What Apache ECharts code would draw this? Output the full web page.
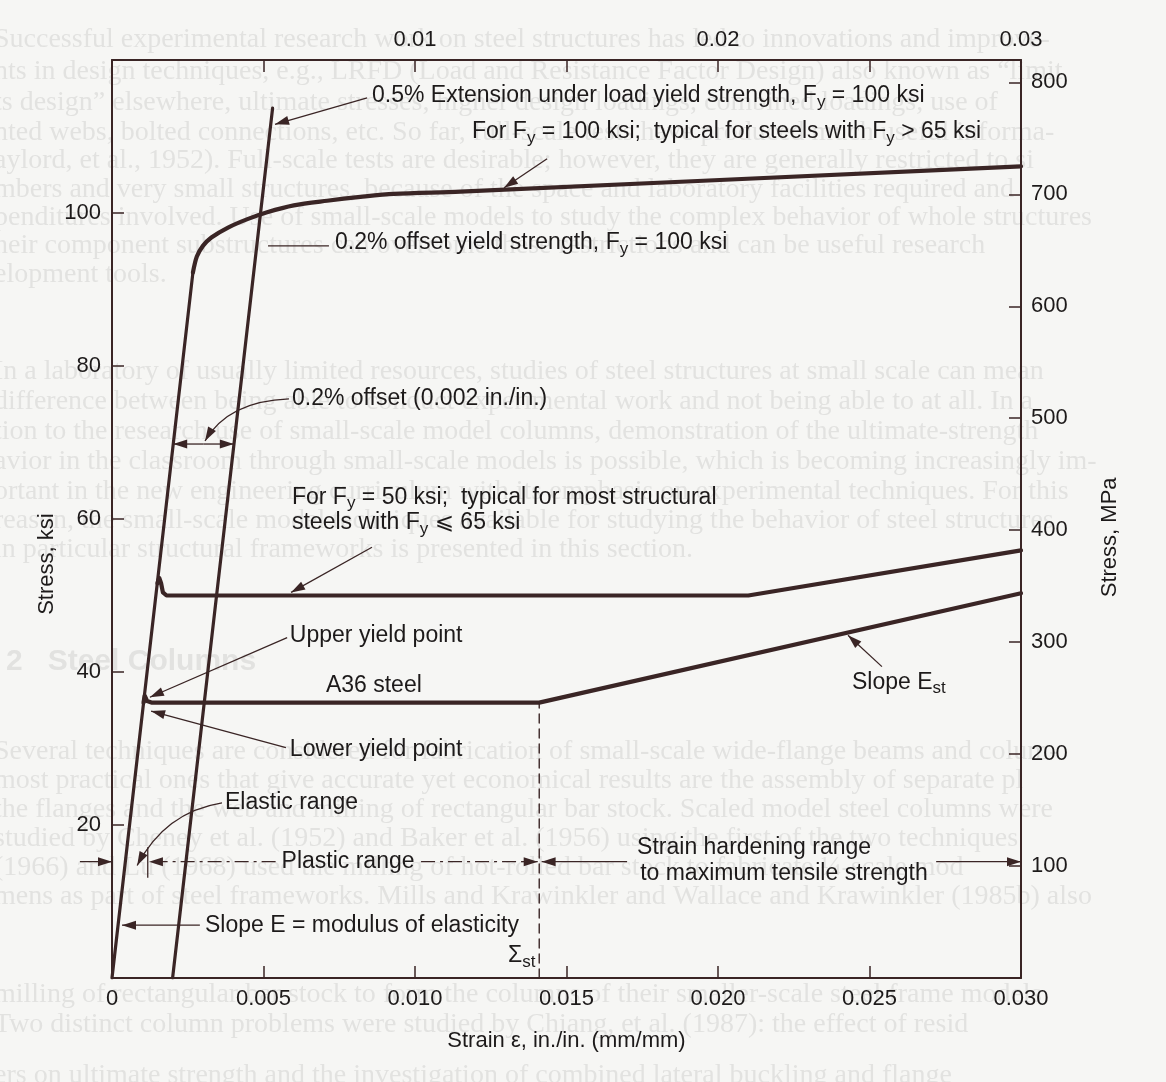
<!DOCTYPE html>
<html>
<head>
<meta charset="utf-8">
<title>Stress–strain curves for structural steels</title>
<script src="https://cdn.jsdelivr.net/npm/echarts@6/dist/echarts.min.js"></script>
<style>
  html, body { margin: 0; padding: 0; background: #f6f6f4; }
  #chart { width: 1166px; height: 1082px; }
</style>
</head>
<body>
<div id="chart"></div>
<script>
// ---------- data: strain (in./in.) against stress (ksi) ----------
const strainTickLabelsBottom = ['0', '0.005', '0.010', '0.015', '0.020', '0.025', '0.030'];
const strainTickLabelsTop = ['', '', '0.01', '', '0.02', '', '0.03'];
const ksiTickLabels = ['', '20', '40', '60', '80', '100', ''];
const mpaTickLabels = ['', '100', '200', '300', '400', '500', '600', '700', '800'];

// elastic line (slope E) shared by all three steels, and the 0.2 % offset line
const elasticLine = [[0, 0], [0.00267, 92.2]];
const offsetLine = [[0.002, 0], [0.0053, 113.7]];

// Fy = 100 ksi steel: rounded knee, no yield plateau
const steel100 = [[0.00267, 92.2], [0.0028, 94.3], [0.0030, 95.7], [0.00328, 96.8], [0.00383, 98.1],
  [0.00447, 99.2], [0.00512, 100.1], [0.0060, 101.0], [0.0071, 101.6], [0.0082, 102.1],
  [0.0093, 102.5], [0.0115, 102.8], [0.0300, 106.1]];

// Fy = 50 ksi steel: upper yield point, plateau, strain hardening
const steel50 = [[0.0015, 51.6], [0.00156, 52.3], [0.00162, 51.6], [0.00168, 50.4], [0.0018, 50.0],
  [0.0210, 50.0], [0.0300, 55.9]];

// A36 steel: yield plateau at 36 ksi, strain hardening from eps_st
const steelA36 = [[0.00104, 36.0], [0.00108, 36.9], [0.00116, 36.2], [0.0013, 36.0],
  [0.0141, 36.0], [0.0300, 50.3]];

const strainHardeningOnset = [[0.0141, 0], [0.0141, 36.0]];

// ---------- axes ----------
const STRAIN_MAX = 0.03;
const KSI_MAX = 120;
const MPA_MAX = 820;

const INK = '#3a2525';
const TEXT = '#1d1a1a';
const FONT = '"Liberation Sans", Arial, Helvetica, "DejaVu Sans", sans-serif';
const NOTE_SIZE = 23;

function pick(list, v, step) {
  const i = Math.round(v / step);
  if (Math.abs(i * step - v) > step * 1e-6) return '';
  return list[i] || '';
}

const axisBase = {
  type: 'value',
  axisLine: { show: true, onZero: false, lineStyle: { color: INK, width: 2 } },
  axisTick: { show: true, inside: true, length: 12, lineStyle: { color: INK, width: 1.5 } },
  splitLine: { show: false },
};
const labelBase = { color: TEXT, fontFamily: FONT, fontSize: 22 };

const option = {
  backgroundColor: '#f6f6f4',
  animation: false,
  grid: { left: 112, right: 145, top: 60, bottom: 104, containLabel: false },
  xAxis: [
    Object.assign({}, axisBase, {
      position: 'bottom', min: 0, max: STRAIN_MAX, interval: 0.005,
      axisLabel: Object.assign({}, labelBase, { margin: 10, formatter: v => pick(strainTickLabelsBottom, v, 0.005) }),
      name: 'Strain ε, in./in. (mm/mm)', nameLocation: 'middle', nameGap: 52,
      nameTextStyle: { color: TEXT, fontFamily: FONT, fontSize: 22 }
    }),
    Object.assign({}, axisBase, {
      position: 'top', min: 0, max: STRAIN_MAX, interval: 0.005,
      axisLabel: Object.assign({}, labelBase, { margin: 9, formatter: v => pick(strainTickLabelsTop, v, 0.005) })
    })
  ],
  yAxis: [
    Object.assign({}, axisBase, {
      position: 'left', min: 0, max: KSI_MAX, interval: 20,
      axisLabel: Object.assign({}, labelBase, { margin: 11, formatter: v => pick(ksiTickLabels, v, 20) })
    }),
    Object.assign({}, axisBase, {
      position: 'right', min: 0, max: MPA_MAX, interval: 100, alignTicks: false,
      axisLabel: Object.assign({}, labelBase, { margin: 10, formatter: v => (v > 800 ? '' : pick(mpaTickLabels, v, 100)) })
    })
  ],
  series: [
    { name: 'Elastic line', data: elasticLine, width: 3.2 },
    { name: '0.2% offset line', data: offsetLine, width: 3.2 },
    { name: 'Fy = 100 ksi', data: steel100, width: 4.2, smooth: 0.3 },
    { name: 'Fy = 50 ksi', data: steel50, width: 4.2 },
    { name: 'A36 steel', data: steelA36, width: 4.2 },
    { name: 'Onset of strain hardening', data: strainHardeningOnset, width: 1.4, type: 'dashed' }
  ].map(s => ({
    type: 'line', name: s.name, data: s.data, xAxisIndex: 0, yAxisIndex: 0,
    showSymbol: false, symbol: 'none', silent: true, smooth: s.smooth || false,
    lineStyle: { color: INK, width: s.width, type: s.type === 'dashed' ? [9, 6] : 'solid', cap: 'round', join: 'round' }
  }))
};

// ---------- annotation layout (strain, ksi) ----------
const labels = [
  { t: '0.5% Extension under load yield strength, F_{y} = 100 ksi', at: [0.00858, 115.3] },
  { t: 'For F_{y} = 100 ksi;  typical for steels with F_{y} > 65 ksi', at: [0.01188, 110.6] },
  { t: '0.2% offset yield strength, F_{y} = 100 ksi', at: [0.00736, 96.1] },
  { t: '0.2% offset (0.002 in./in.)', at: [0.00594, 75.7] },
  { t: 'For F_{y} = 50 ksi;  typical for most structural', at: [0.00594, 62.8] },
  { t: 'steels with F_{y} ⩽ 65 ksi', at: [0.00594, 59.5] },
  { t: 'Upper yield point', at: [0.00587, 44.8] },
  { t: 'A36 steel', at: [0.00706, 38.2] },
  { t: 'Lower yield point', at: [0.00587, 29.8] },
  { t: 'Elastic range', at: [0.00373, 22.9] },
  { t: 'Plastic range', at: [0.00779, 15.2], align: 'center' },
  { t: 'Strain hardening range', at: [0.01733, 17.0] },
  { t: 'to maximum tensile strength', at: [0.01743, 13.6] },
  { t: 'Slope E = modulus of elasticity', at: [0.00307, 6.9] },
  { t: 'Σ_{st}', at: [0.01307, 2.9] },
  { t: 'Slope E_{st}', at: [0.02442, 38.6] }
];

const pointers = [
  { from: [0.00842, 115.05], to: [0.00538, 111.6], head: true },
  { from: [0.01436, 107.1], to: [0.01294, 103.3], head: true },
  { from: [0.00716, 95.7], to: [0.00515, 95.7], head: false },
  { from: [0.00584, 75.7], via: [0.00383, 75.4], to: [0.00307, 70.2], head: true },
  { from: [0.00858, 56.3], to: [0.00591, 50.4], head: true },
  { from: [0.00578, 44.5], to: [0.00125, 36.7], head: true },
  { from: [0.00574, 30.1], to: [0.00129, 34.9], head: true },
  { from: [0.00363, 22.9], via: [0.00175, 21.7], to: [0.00083, 14.7], head: true },
  { from: [0.0029, 6.9], to: [0.00033, 6.9], head: true },
  { from: [0.02541, 40.7], to: [0.02429, 44.8], head: true }
];

const RANGE_KSI = 15.2;          // level of the range arrows
const ELASTIC_LIMIT = 0.00118;   // end of the elastic range
const OFFSET_ARROW_KSI = 69.8;   // level of the 0.002 offset dimension

// faint print from the facing page
const backPrint = [
  [40, 'Successful experimental research work on steel structures has led to innovations and improve-'],
  [72, 'nts in design techniques, e.g., LRFD (Load and Resistance Factor Design) also known as “limit'],
  [103, 'ts design” elsewhere, ultimate stresses, higher design loadings, combined loadings, use of'],
  [133, 'nted webs, bolted connections, etc. So far, full-scale tests have produced much useful informa-'],
  [161, 'aylord, et al., 1952). Full-scale tests are desirable; however, they are generally restricted to si'],
  [190, 'mbers and very small structures, because of the space and laboratory facilities required and'],
  [218, 'penditures involved. Use of small-scale models to study the complex behavior of whole structures'],
  [246, 'heir component substructures can overcome these restrictions and can be useful research'],
  [275, 'elopment tools.'],
  [372, 'In a laboratory of usually limited resources, studies of steel structures at small scale can mean'],
  [402, 'difference between being able to conduct experimental work and not being able to at all. In a'],
  [432, 'tion to the research use of small-scale model columns, demonstration of the ultimate-strength'],
  [462, 'avior in the classroom through small-scale models is possible, which is becoming increasingly im-'],
  [492, 'ortant in the new engineering curriculum with its emphasis on experimental techniques. For this'],
  [521, 'reason, the small-scale model techniques available for studying the behavior of steel structures'],
  [550, 'in particular structural frameworks is presented in this section.'],
  [752, 'Several techniques are considered for fabrication of small-scale wide-flange beams and colum-'],
  [781, 'most practical ones that give accurate yet economical results are the assembly of separate pl'],
  [810, 'the flanges and the web and milling of rectangular bar stock. Scaled model steel columns were'],
  [839, 'studied by Cheney et al. (1952) and Baker et al. (1956) using the first of the two techniques'],
  [868, '(1966) and Lu (1968) used the milling of hot-rolled bar stock to fabricate ¼-scale mod'],
  [897, 'mens as part of steel frameworks. Mills and Krawinkler and Wallace and Krawinkler (1985b) also'],
  [995, 'milling of rectangular bar stock to form the columns of their smaller-scale steel frame models'],
  [1025, 'Two distinct column problems were studied by Chiang, et al. (1987): the effect of resid'],
  [1076, 'ers on ultimate strength and the investigation of combined lateral buckling and flange'],
];

const chart = echarts.init(document.getElementById('chart'), null, { renderer: 'canvas' });
chart.setOption(option);

function richMarkup(src) {
  return '{m|' + src.replace(/_\{([^}]*)\}/g, '}{s|$1}{m|') + '}';
}
function richStyles(size) {
  const sub = Math.round(size * 0.72);
  return {
    m: { fontSize: size, fontFamily: FONT, fill: TEXT, lineHeight: size + 6, verticalAlign: 'middle' },
    s: { fontSize: sub, fontFamily: FONT, fill: TEXT, lineHeight: sub, padding: [13, 0, 0, 0], verticalAlign: 'bottom' }
  };
}

function decorate() {
  const P = p => chart.convertToPixel({ xAxisIndex: 0, yAxisIndex: 0 }, p);
  const els = [];

  const head = (tip, from, len, half) => {
    len = len || 14; half = half || 4.5;
    const dx = tip[0] - from[0], dy = tip[1] - from[1];
    const d = Math.hypot(dx, dy) || 1, ux = dx / d, uy = dy / d;
    const bx = tip[0] - ux * len, by = tip[1] - uy * len;
    els.push({ type: 'polygon', z: 20, shape: { points: [tip, [bx - uy * half, by + ux * half], [bx + uy * half, by - ux * half]] },
      style: { fill: INK } });
  };
  const seg = (a, b, style) => {
    const p = P(a), q = P(b);
    els.push({ type: 'line', z: 20, shape: { x1: p[0], y1: p[1], x2: q[0], y2: q[1] },
      style: Object.assign({ stroke: INK, lineWidth: 1.3 }, style || {}) });
  };
  const arrow = (from, tip, style) => { seg(from, tip, style); head(P(tip), P(from)); };

  // faint back-page print
  backPrint.forEach(([y, t]) => {
    els.push({ type: 'text', z: -1, x: -6, y: y, silent: true,
      style: { text: t, font: '28px "Liberation Serif", "DejaVu Serif", serif', fill: 'rgba(90,90,90,0.13)', verticalAlign: 'middle' } });
  });
  els.push({ type: 'text', z: -1, x: 6, y: 662, silent: true,
    style: { text: '2   Steel Columns', font: 'bold 30px "Liberation Sans", Arial, sans-serif', fill: 'rgba(90,90,90,0.13)', verticalAlign: 'middle' } });

  // text labels
  labels.forEach(l => {
    const [x, y] = P(l.at);
    els.push({ type: 'text', z: 20, x, y, style: { text: richMarkup(l.t), rich: richStyles(NOTE_SIZE), align: l.align || 'left', verticalAlign: 'middle' } });
  });

  // leader lines and arrows
  pointers.forEach(p => {
    if (p.via) {
      const a = P(p.from), c = P(p.via), b = P(p.to);
      els.push({ type: 'bezierCurve', z: 20, shape: { x1: a[0], y1: a[1], cpx1: c[0], cpy1: c[1], x2: b[0], y2: b[1] },
        style: { stroke: INK, lineWidth: 1.3, fill: null } });
      if (p.head) head(b, c);
    } else if (p.head) {
      arrow(p.from, p.to);
    } else {
      seg(p.from, p.to);
    }
  });

  // 0.002 offset dimension between the elastic and offset lines
  const mid = [0.00302, OFFSET_ARROW_KSI];
  arrow(mid, [0.00202, OFFSET_ARROW_KSI]);
  arrow(mid, [0.00402, OFFSET_ARROW_KSI]);

  // elastic / plastic / strain-hardening ranges
  arrow([-0.00106, RANGE_KSI], [0, RANGE_KSI]);
  seg([ELASTIC_LIMIT, RANGE_KSI + 1.9], [ELASTIC_LIMIT, RANGE_KSI - 2.1]);
  const dashDot = { lineDash: [14, 5, 3, 5] };
  arrow([0.0054, RANGE_KSI], [ELASTIC_LIMIT + 0.00004, RANGE_KSI], dashDot);
  arrow([0.0102, RANGE_KSI], [0.01405, RANGE_KSI], dashDot);
  arrow([0.0170, RANGE_KSI], [0.01418, RANGE_KSI]);
  arrow([0.0272, RANGE_KSI], [STRAIN_MAX, RANGE_KSI]);

  // axis titles for stress
  const l = P([-0.00215, 54.1]);
  els.push({ type: 'text', z: 20, x: l[0], y: l[1], rotation: Math.PI / 2,
    style: { text: 'Stress, ksi', font: '22px ' + FONT, fill: TEXT, align: 'center', verticalAlign: 'middle' } });
  const r = P([0.03294, 57.6]);
  els.push({ type: 'text', z: 20, x: r[0], y: r[1], rotation: Math.PI / 2,
    style: { text: 'Stress, MPa', font: '22px ' + FONT, fill: TEXT, align: 'center', verticalAlign: 'middle' } });

  chart.setOption({ graphic: { elements: els } });
}
decorate();
</script>
</body>
</html>
